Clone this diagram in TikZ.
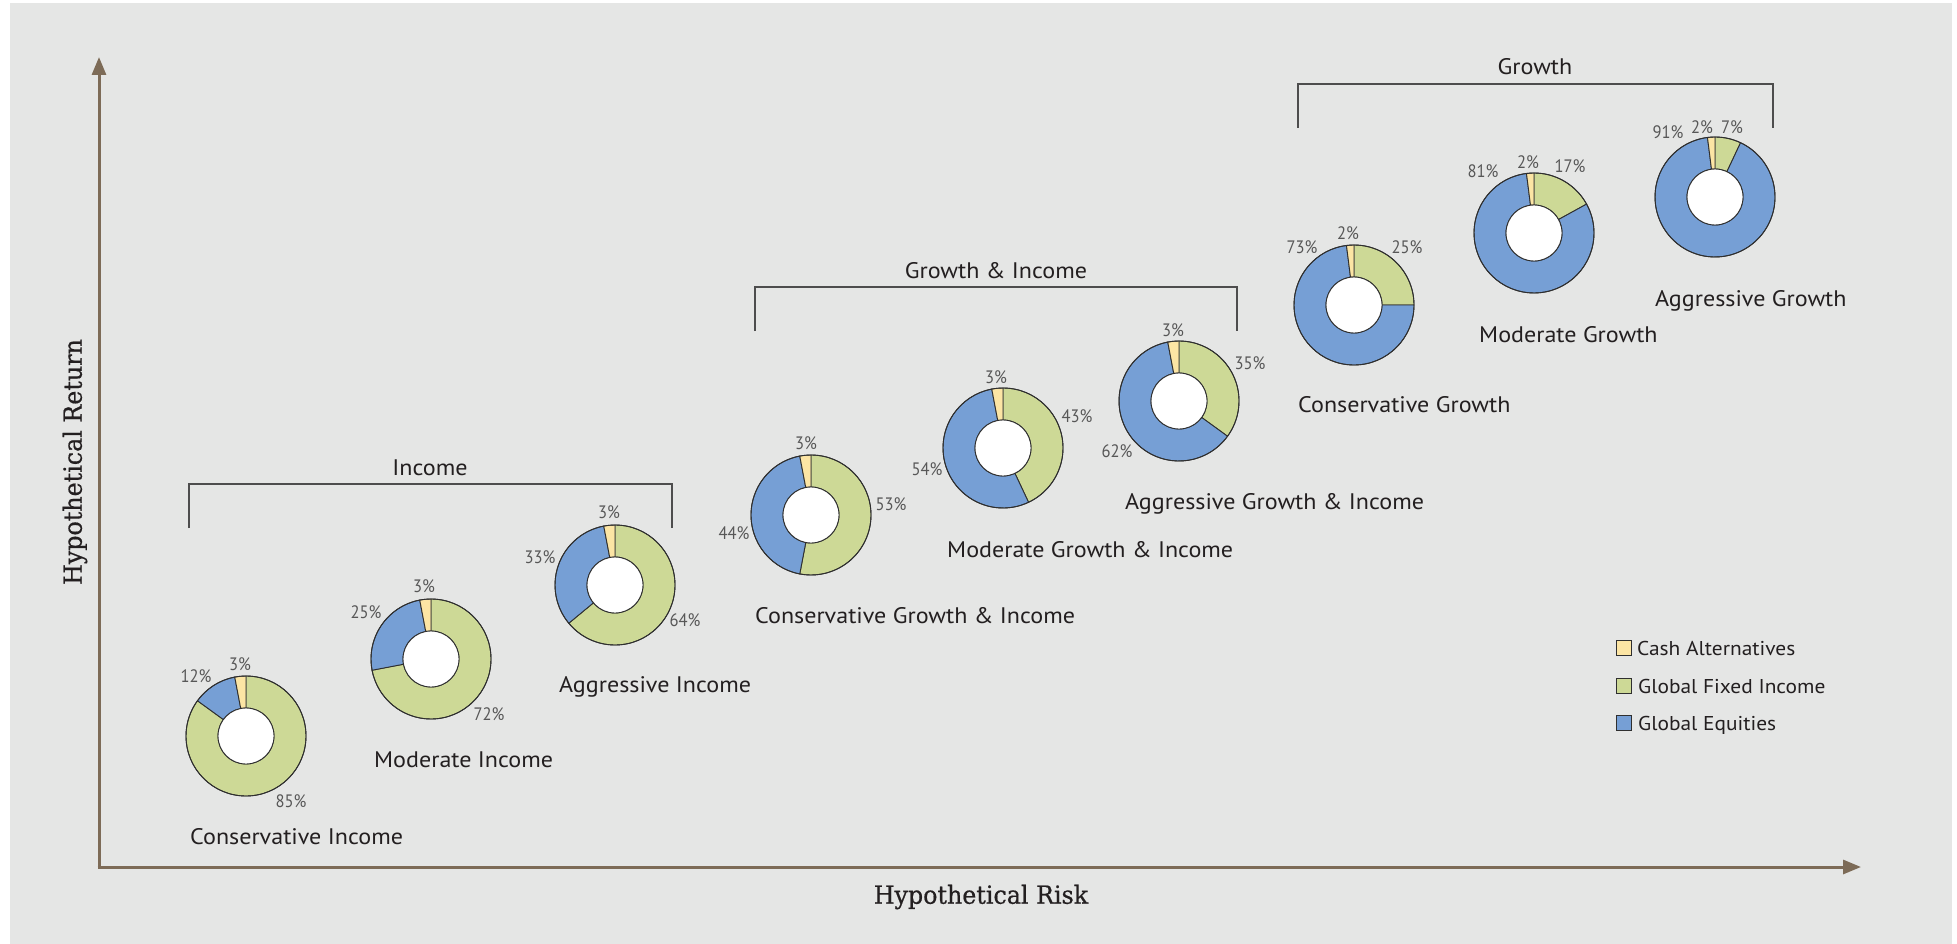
\documentclass[tikz,border=0pt]{standalone}
\usepackage{fontspec}
\setmainfont[FakeStretch=1.07]{PT Sans}
\newfontfamily\pctfont[FakeStretch=0.92]{PT Sans}
\newfontfamily\axfont[FakeStretch=0.95,FakeBold=0.6]{DejaVu Serif}
\usetikzlibrary{arrows.meta}
\definecolor{bg}{HTML}{E5E6E5}
\definecolor{axiscol}{HTML}{7D6B57}
\definecolor{cash}{HTML}{FCE5A4}
\definecolor{fixed}{HTML}{CDD996}
\definecolor{equity}{HTML}{769FD5}
\definecolor{ringcol}{HTML}{2F2F2F}
\definecolor{txt}{HTML}{231F20}
\definecolor{pctcol}{HTML}{575757}
\definecolor{brk}{HTML}{4D4D4D}
\newcommand\drawdonut[5]{%
  \coordinate (#1) at (#2,#3);
  \begin{scope}[shift={(#1)}, yscale=-1]
    \pgfmathsetmacro\aA{90-#4*3.6}
    \pgfmathsetmacro\aB{\aA-#5*3.6}
    \filldraw[seg,fill=fixed] (90:60) arc[start angle=90,end angle=\aA,radius=60] -- (\aA:28) arc[start angle=\aA,end angle=90,radius=28] -- cycle;
    \filldraw[seg,fill=equity] (\aA:60) arc[start angle=\aA,end angle=\aB,radius=60] -- (\aB:28) arc[start angle=\aB,end angle=\aA,radius=28] -- cycle;
    \filldraw[seg,fill=cash] (\aB:60) arc[start angle=\aB,end angle=-270,radius=60] -- (-270:28) arc[start angle=-270,end angle=\aB,radius=28] -- cycle;
    \draw[seg] (0,0) circle[radius=60];
    \filldraw[seg,fill=white] (0,0) circle[radius=28];
  \end{scope}}
\begin{document}
\begin{tikzpicture}[x=1pt,y=-1pt,
  seg/.style={draw=ringcol, line width=0.9pt, line join=round},
  lbl/.style={anchor=base west, text=txt, font=\fontsize{22.5}{25}\selectfont, inner sep=0pt},
  grp/.style={anchor=base, text=txt, font=\fontsize{22.5}{25}\selectfont, inner sep=0pt},
  pct/.style={anchor=center, text=pctcol, font=\pctfont\fontsize{18}{20}\selectfont, inner sep=0pt},
  legtxt/.style={anchor=base west, text=txt, font=\fontsize{20}{22}\selectfont, inner sep=0pt},
  legbox/.style={draw=ringcol, line width=0.6pt, minimum size=15pt, inner sep=0pt},
  bracket/.style={draw=brk, line width=1.4pt},
  axisline/.style={draw=axiscol, line width=3pt, -{Triangle[length=18pt,width=14pt]}},
  axlabel/.style={text=txt, font=\axfont\fontsize{25}{27}\selectfont, inner sep=0pt}
]
\path[use as bounding box, fill=white] (0,0) rectangle (1957,944);
\fill[bg] (10,3) rectangle (1952,944);

% axes
\coordinate (origin) at (99,867);
\coordinate (ytip) at (99,57);
\coordinate (xtip) at (1861,867);
\draw[axisline] (origin) -- (ytip);
\draw[axisline] ([xshift=-1.5pt]origin) -- (xtip);
\node[axlabel] (xlab) at (981,897) {Hypothetical Risk};
\node[axlabel, rotate=90] (ylab) at (75,462) {Hypothetical Return};

% brackets
\coordinate (bi1) at (189,528); \coordinate (bi2) at (189,484);
\coordinate (bi3) at (672,484); \coordinate (bi4) at (672,528);
\draw[bracket] (bi1) -- (bi2) -- (bi3) -- (bi4);
\node[grp] (gi) at (430,475) {Income};
\coordinate (bg1) at (755,331); \coordinate (bg2) at (755,287);
\coordinate (bg3) at (1237,287); \coordinate (bg4) at (1237,331);
\draw[bracket] (bg1) -- (bg2) -- (bg3) -- (bg4);
\node[grp] (ggi) at (996,278) {Growth \& Income};
\coordinate (bw1) at (1298,128); \coordinate (bw2) at (1298,84);
\coordinate (bw3) at (1773,84); \coordinate (bw4) at (1773,128);
\draw[bracket] (bw1) -- (bw2) -- (bw3) -- (bw4);
\node[grp] (gw) at (1535,75) {Growth};

% donuts: name, cx, cy, fixed, equity
\drawdonut{d1}{246}{736}{85}{12}
\drawdonut{d2}{431}{659}{72}{25}
\drawdonut{d3}{615}{585}{64}{33}
\drawdonut{d4}{811}{515}{53}{44}
\drawdonut{d5}{1003}{448}{43}{54}
\drawdonut{d6}{1179}{401}{35}{62}
\drawdonut{d7}{1354}{305}{25}{73}
\drawdonut{d8}{1534}{233}{17}{81}
\drawdonut{d9}{1715}{197}{7}{91}

% names
\node[lbl] (n1) at (190,844) {Conservative Income};
\node[lbl] (n2) at (374,767) {Moderate Income};
\node[lbl] (n3) at (559,692) {Aggressive Income};
\node[lbl] (n4) at (755,623) {Conservative Growth \& Income};
\node[lbl] (n5) at (947,557) {Moderate Growth \& Income};
\node[lbl] (n6) at (1125,509) {Aggressive Growth \& Income};
\node[lbl] (n7) at (1298,412) {Conservative Growth};
\node[lbl] (n8) at (1479,342) {Moderate Growth};
\node[lbl] (n9) at (1655,306) {Aggressive Growth};

% percentages
\node[pct] (p1e) at (196,676) {12\%};
\node[pct] (p1c) at (240,664) {3\%};
\node[pct] (p1f) at (291,801) {85\%};
\node[pct] (p2e) at (366,612) {25\%};
\node[pct] (p2c) at (424,586) {3\%};
\node[pct] (p2f) at (489,714) {72\%};
\node[pct] (p3e) at (540,557) {33\%};
\node[pct] (p3c) at (609,512) {3\%};
\node[pct] (p3f) at (685,620) {64\%};
\node[pct] (p4e) at (734,533) {44\%};
\node[pct] (p4c) at (806,443) {3\%};
\node[pct] (p4f) at (891,504) {53\%};
\node[pct] (p5e) at (927,469) {54\%};
\node[pct] (p5c) at (996,377) {3\%};
\node[pct] (p5f) at (1077,416) {43\%};
\node[pct] (p6e) at (1117,451) {62\%};
\node[pct] (p6c) at (1173,330) {3\%};
\node[pct] (p6f) at (1250,363) {35\%};
\node[pct] (p7e) at (1302,247) {73\%};
\node[pct] (p7c) at (1348,233) {2\%};
\node[pct] (p7f) at (1407,247) {25\%};
\node[pct] (p8e) at (1483,171) {81\%};
\node[pct] (p8c) at (1528,162) {2\%};
\node[pct] (p8f) at (1570,166) {17\%};
\node[pct] (p9e) at (1668,132) {91\%};
\node[pct] (p9c) at (1702,127) {2\%};
\node[pct] (p9f) at (1732,127) {7\%};

% legend
\node[legbox, fill=cash] (l1) at (1624,648) {};
\node[legbox, fill=fixed] (l2) at (1624,686) {};
\node[legbox, fill=equity] (l3) at (1624,723) {};
\node[legtxt] (t1) at (1637,655) {Cash Alternatives};
\node[legtxt] (t2) at (1638,693) {Global Fixed Income};
\node[legtxt] (t3) at (1638,730) {Global Equities};
\end{tikzpicture}
\end{document}
